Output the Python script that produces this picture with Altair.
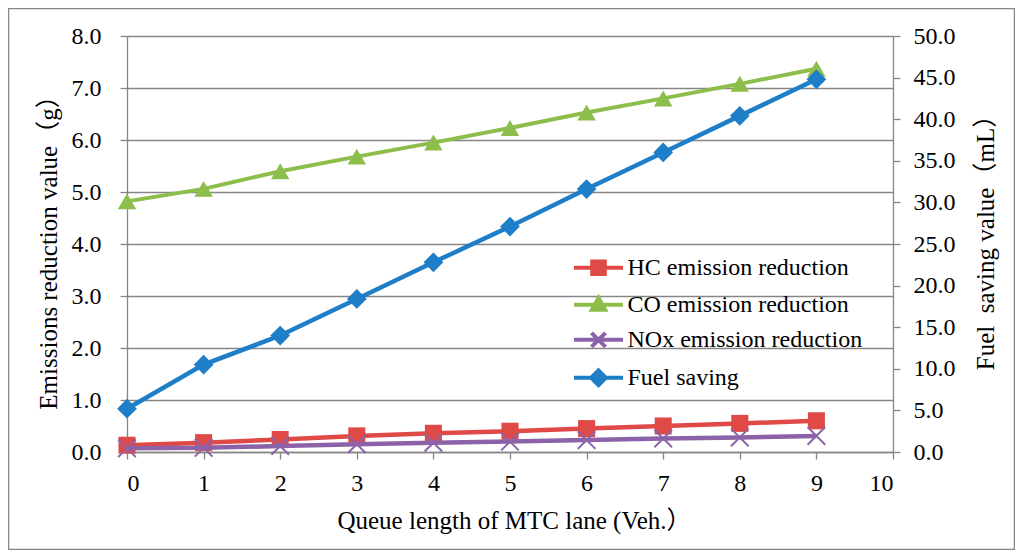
import altair as alt
import pandas as pd

queue = [0, 1, 2, 3, 4, 5, 6, 7, 8, 9]
hc = [0.13, 0.18, 0.24, 0.31, 0.36, 0.40, 0.45, 0.50, 0.55, 0.60]
co = [4.82, 5.06, 5.40, 5.68, 5.95, 6.23, 6.53, 6.80, 7.08, 7.37]
nox = [0.07, 0.08, 0.115, 0.15, 0.18, 0.20, 0.23, 0.26, 0.28, 0.31]
fuel = [5.2, 10.5, 14.0, 18.4, 22.8, 27.1, 31.6, 36.0, 40.4, 44.8]

series_names = ["HC emission reduction", "CO emission reduction",
                "NOx emission reduction", "Fuel saving"]
colors = ["#DF4A47", "#8DBE4B", "#8C63A8", "#1E7EC8"]
left_ticks = [0, 1, 2, 3, 4, 5, 6, 7, 8]
right_ticks = [0, 5, 10, 15, 20, 25, 30, 35, 40, 45, 50]
x_ticks = [0, 1, 2, 3, 4, 5, 6, 7, 8, 9, 10]

rows = []
for name, vals in zip(series_names, [hc, co, nox, fuel]):
    for q, v in zip(queue, vals):
        rows.append({"queue": q, "value": v, "series": name})
df = pd.DataFrame(rows)

FONT = "Liberation Serif, Times New Roman, serif"
TFONT = "Liberation Serif, Noto Sans CJK JP, serif"
GRAY = "#868686"
W, H = 766, 416

x_enc = alt.X("queue:Q", scale=alt.Scale(domain=[0, 10], nice=False),
              axis=alt.Axis(values=x_ticks, grid=False, format="d",
                            title="Queue length of MTC lane (Veh.）",
                            titleX=W / 2 + 4, titleY=68, titleBaseline="middle",
                            titleAlign="center", labelPadding=12))
y_left = alt.Y("value:Q", scale=alt.Scale(domain=[0, 8], nice=False),
               axis=alt.Axis(values=left_ticks, format=".1f", grid=True,
                             title="Emissions reduction value（g）",
                             titleX=-79, titleY=H / 2 + 2, titleAngle=270,
                             titleBaseline="middle", titleAlign="center",
                             labelPadding=19))
y_right = alt.Y("value:Q", scale=alt.Scale(domain=[0, 50], nice=False),
                axis=alt.Axis(values=right_ticks, format=".1f", grid=False,
                              orient="right",
                              title="Fuel\u00a0 saving value（mL）",
                              titleX=92, titleY=H / 2 - 8, titleAngle=270,
                              titleBaseline="middle", titleAlign="center",
                              labelPadding=13))


def series_layers(i, y_enc, shape, size, filled=True, sw=4.5):
    name = series_names[i]
    c = colors[i]
    base = alt.Chart(df).transform_filter(alt.datum.series == name)
    line = base.mark_line(strokeWidth=sw, color=c).encode(x=x_enc, y=y_enc)
    if filled:
        pts = base.mark_point(shape=shape, filled=True, size=size, opacity=1,
                              color=c).encode(x=x_enc, y=y_enc)
    else:
        pts = base.mark_point(shape=shape, filled=False, size=size, opacity=1,
                              strokeWidth=2, color=c).encode(x=x_enc, y=y_enc)
    return [line, pts]


legend_paths = [
    "M-3.5,0H3.5M-0.9,-0.9H0.9V0.9H-0.9Z",
    "M-3.5,0H3.5M0,-1.0L0.95,0.7H-0.95Z",
    "M-3.5,0H3.5M-1.0,-1.0L1.0,1.0M-1.0,1.0L1.0,-1.0",
    "M-3.5,0H3.5M0,-1.05L1.05,0L0,1.05L-1.05,0Z",
]

leg = alt.Legend(orient="none", legendX=459.5, legendY=219.8, title=None,
                 direction="vertical", labelFont=FONT, labelFontSize=24,
                 labelColor="black", symbolSize=196, symbolStrokeWidth=4,
                 symbolOffset=0, labelOffset=17, rowPadding=7,
                 symbolOpacity=1, padding=0, labelLimit=400)

pal = alt.Scale(domain=series_names, range=colors)
legend_layer = alt.Chart(df).mark_point(filled=True, opacity=0).encode(
    fill=alt.Fill("series:N", scale=pal, legend=leg),
    stroke=alt.Stroke("series:N", scale=pal, legend=leg),
    shape=alt.Shape("series:N", scale=alt.Scale(domain=series_names, range=legend_paths),
                    legend=leg),
)

border = alt.Chart(pd.DataFrame({"a": [0]})).mark_rect(
    filled=False, stroke=GRAY, strokeWidth=1.5).encode(
    x=alt.value(-118.5), x2=alt.value(887.5), y=alt.value(-27.5), y2=alt.value(513.5))

left_layers = (
    series_layers(0, y_left, "square", 290)
    + series_layers(1, y_left, "triangle-up", 340, sw=4)
    + series_layers(2, y_left, "M-1,-1L1,1M-1,1L1,-1", 310, filled=False)
)
left = alt.layer(border, *left_layers, legend_layer)
right = alt.layer(*series_layers(3, y_right, "diamond", 390))

chart = alt.layer(left, right).resolve_scale(y="independent").properties(
    width=W, height=H,
    autosize=alt.AutoSizeParams(type="none"),
    padding={"left": 119, "top": 28, "right": 122, "bottom": 98},
    background="white",
).configure_axis(
    domainColor=GRAY, tickColor=GRAY, gridColor=GRAY,
    domainWidth=1.3, tickWidth=1.3, gridWidth=1.3, tickSize=7,
    labelFont=FONT, titleFont=TFONT, labelFontSize=24, titleFontSize=25,
    labelColor="black", titleColor="black", titleFontWeight="normal",
).configure_view(stroke=None)

chart.save("out.html", embed_options={"renderer": "svg", "actions": False})
